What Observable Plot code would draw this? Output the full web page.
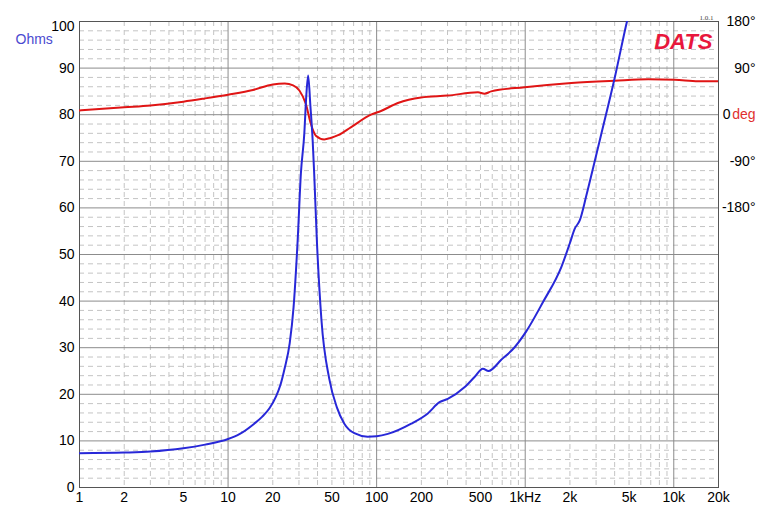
<!DOCTYPE html>
<html><head><meta charset="utf-8">
<script src="https://cdn.jsdelivr.net/npm/d3@7"></script>
<script src="https://cdn.jsdelivr.net/npm/@observablehq/plot@0.6"></script>
<style>body{margin:0;background:#fff;font-family:"Liberation Sans",Arial,sans-serif}</style>
</head><body><div id="chart"></div>
<script>
// Impedance (Ohms) vs frequency (Hz)
const freqZ = [1, 2, 3, 5, 7, 10, 12, 15, 17, 19, 21, 22.5, 24, 26, 27.6, 29.4, 30.9, 32.6, 33.6, 34.6, 35.8, 37.1, 38, 39.6, 42.5, 48, 54, 60.6, 70.8, 87, 100, 119, 171, 221, 265, 301, 390, 456, 519, 566, 690, 849, 1016, 1318, 1750, 1992, 2153, 2328, 2582, 2937, 3260, 4009, 4857, 5100];
const ohms  = [7.36, 7.5, 7.7, 8.4, 9.2, 10.4, 11.5, 13.7, 15.2, 17, 19.5, 22, 25.5, 31, 38.7, 53, 67.3, 76, 84, 88.4, 82, 74.5, 67.3, 53, 36, 23.3, 17.2, 13.7, 11.65, 10.9, 11.0, 11.5, 13.7, 15.9, 18.3, 19.0, 21.5, 23.7, 25.5, 25.0, 27.4, 30.1, 33.5, 39.8, 47.3, 52.3, 55.5, 57.3, 62.7, 70, 76, 88, 100.2, 103];
// Phase (degrees) vs frequency (Hz)
const freqP = [1, 2, 3, 5, 7, 10, 14.7, 20, 24.1, 27.4, 30.2, 33.4, 36.1, 39, 44.4, 49, 55, 67, 91.6, 107, 139, 199, 301, 481, 532, 590, 991, 2046, 4009, 6730, 10180, 14630, 20000];
const phaseDeg = [8.1, 14.4, 18, 25.2, 31.5, 38.7, 47.7, 58.5, 60.3, 56.7, 46.8, 20.7, -18, -40.5, -47.7, -45, -39.6, -24.3, 0, 7.2, 22.5, 33.3, 36.9, 43.2, 40.5, 45, 53.1, 61.2, 65.7, 68.4, 67.5, 64.8, 64.8];

const xTicks = [1, 2, 5, 10, 20, 50, 100, 200, 500, 1000, 2000, 5000, 10000, 20000];
const xTickLabels = ["1", "2", "5", "10", "20", "50", "100", "200", "500", "1kHz", "2k", "5k", "10k", "20k"];
const yTicks = [0, 10, 20, 30, 40, 50, 60, 70, 80, 90];
const yTopTick = [100];
const phaseTicks = [180, 90, -90, -180];
const phaseTickLabels = ["180°", "90°", "-90°", "-180°"];

const phaseToY = p => 80 + p / 9;
const imp = freqZ.map((f, i) => ({f, v: ohms[i]}));
const ph = freqP.map((f, i) => ({f, v: phaseToY(phaseDeg[i])}));
const xLabels = xTicks.map((t, i) => ({x: t, label: xTickLabels[i]}));

const majorX = [1, 10, 100, 1000, 10000];
const minorX = [];
for (const d of majorX) for (let k = 2; k <= 9; k++) if (d * k <= 20000) minorX.push(d * k);
const majorY = d3.range(10, 100, 10);
const minorY = d3.range(2, 100, 2).filter(v => v % 10 !== 0);
const phaseLabels = phaseTicks.map((p, i) => ({y: phaseToY(p), label: phaseTickLabels[i]}));

const chart = Plot.plot({
  width: 768, height: 516,
  marginLeft: 79, marginRight: 50, marginTop: 21, marginBottom: 29,
  x: {type: "log", domain: [1, 20000], axis: null},
  y: {domain: [0, 100], axis: null},
  style: {fontFamily: "Liberation Sans, Arial, sans-serif", fontSize: "14px", color: "#000", background: "#fff"},
  marks: [
    Plot.ruleY(minorY, {stroke: "#c4c4c4", strokeDasharray: "5,4", strokeWidth: 1}),
    Plot.ruleX(minorX, {stroke: "#c4c4c4", strokeDasharray: "5,4", strokeWidth: 1}),
    Plot.ruleY(majorY, {stroke: "#8c8c8c", strokeWidth: 1}),
    Plot.ruleX(majorX, {stroke: "#8c8c8c", strokeWidth: 1}),
    Plot.frame({stroke: "#555"}),
    Plot.text(xLabels, {x: "x", text: "label", frameAnchor: "bottom", dy: 10, lineAnchor: "middle", fill: "#000"}),
    Plot.text(yTicks, {y: d => d, text: d => String(d), frameAnchor: "left", dx: -5, textAnchor: "end", fill: "#000"}),
    Plot.text(yTopTick, {y: d => d, text: d => String(d), frameAnchor: "left", dx: -5, dy: 5, textAnchor: "end", fill: "#000"}),
    Plot.text(phaseLabels, {y: "y", text: "label", frameAnchor: "right", dx: 37, textAnchor: "end", fill: "#000"}),
    Plot.text(["0"], {y: 80, frameAnchor: "right", dx: 12, textAnchor: "end", fill: "#000"}),
    Plot.text(["deg"], {y: 80, frameAnchor: "right", dx: 37, textAnchor: "end", fill: "#e03030"}),
    Plot.text(["Ohms"], {frameAnchor: "top-left", dx: -64, dy: 13, textAnchor: "start", fill: "#4a4ad0", fontSize: 14}),
    Plot.text(["DATS"], {frameAnchor: "top-right", dx: -6, dy: 12, textAnchor: "end", fill: "#e8173c", fontSize: 22, fontWeight: "bold", fontStyle: "italic"}),
    Plot.text(["1.0.1"], {frameAnchor: "top-right", dx: -5, dy: -6, textAnchor: "end", fill: "#444", fontSize: 7, fontFamily: "Liberation Serif, serif"}),
    Plot.line(ph, {x: "f", y: "v", stroke: "#e01515", strokeWidth: 2, curve: "monotone-x", clip: true}),
    Plot.line(imp, {x: "f", y: "v", stroke: "#2828d8", strokeWidth: 2, curve: "monotone-x", clip: true})
  ]
});
document.getElementById("chart").appendChild(chart);
</script>
</body></html>
